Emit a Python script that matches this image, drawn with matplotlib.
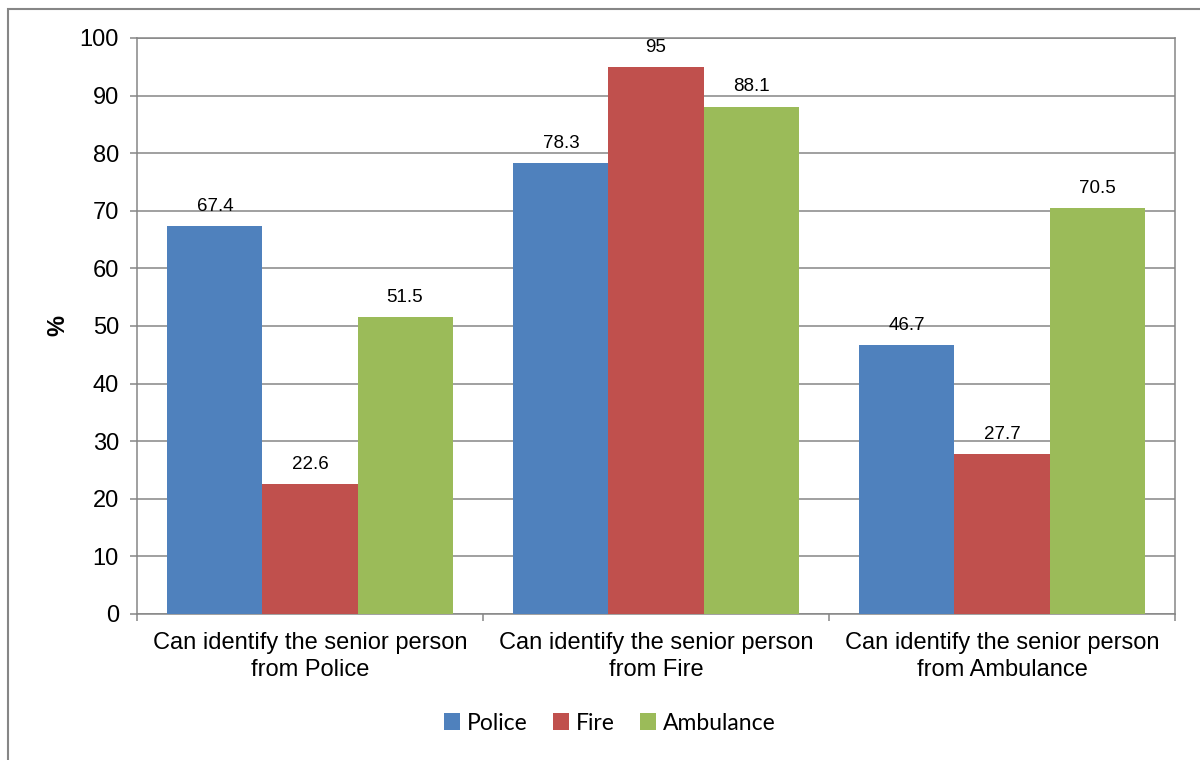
import matplotlib.pyplot as plt
import numpy as np
from matplotlib.patches import Rectangle

categories = ["Can identify the senior person\nfrom Police",
              "Can identify the senior person\nfrom Fire",
              "Can identify the senior person\nfrom Ambulance"]
series = ["Police", "Fire", "Ambulance"]
police = [67.4, 78.3, 46.7]
fire = [22.6, 95, 27.7]
ambulance = [51.5, 88.1, 70.5]
colors = ["#4F81BD", "#C0504D", "#9BBB59"]

grey = "#868686"
plt.rcParams['font.family'] = ['Liberation Sans', 'DejaVu Sans']

fig = plt.figure(figsize=(12, 7.6), dpi=100)
ax = fig.add_axes([137 / 1200, 1 - 614 / 760, 1038 / 1200, 576 / 760])

x = np.arange(len(categories))
w = 0.2746
for i, (name, vals) in enumerate(zip(series, [police, fire, ambulance])):
    bars = ax.bar(x + (i - 1) * w, vals, w, color=colors[i], label=name, zorder=3)
    ax.bar_label(bars, labels=[f"{v:g}" for v in vals], padding=8, fontsize=13.5, zorder=4)

ax.set_xlim(-0.5, 2.5)
ax.set_ylim(0, 100)
ax.set_yticks(np.arange(0, 101, 10))
ax.yaxis.grid(True, color=grey, linewidth=1.1, zorder=0)
ax.tick_params(axis='y', labelsize=17, length=5, width=1.1, color=grey, pad=8)

ax.set_xticks([-0.5, 0.5, 1.5, 2.5])
ax.set_xticklabels([])
ax.set_xticks(x, minor=True)
ax.set_xticklabels(categories, minor=True, fontsize=17, linespacing=1.3)
ax.tick_params(axis='x', which='major', length=5, width=1.1, color=grey)
ax.tick_params(axis='x', which='minor', length=0, pad=13)

for s in ax.spines.values():
    s.set_color(grey)
    s.set_linewidth(1.1)

fig.text(58 / 1200, 1 - 326 / 760, "%", rotation=90, fontsize=17, fontweight='bold',
         ha='center', va='center')

fig.legend(loc='center', bbox_to_anchor=(610 / 1200, 1 - 723 / 760), ncol=3, frameon=False,
           prop={'family': 'Lato', 'size': 16.5}, handlelength=0.7, handleheight=0.7,
           handletextpad=0.3, columnspacing=1.1)

fig.add_artist(Rectangle((8 / 1200, -0.1), 1.2, 1 - 9 / 760 + 0.1, transform=fig.transFigure,
                         fill=False, edgecolor=grey, linewidth=1.5))

fig.savefig("out.png", dpi=100)
